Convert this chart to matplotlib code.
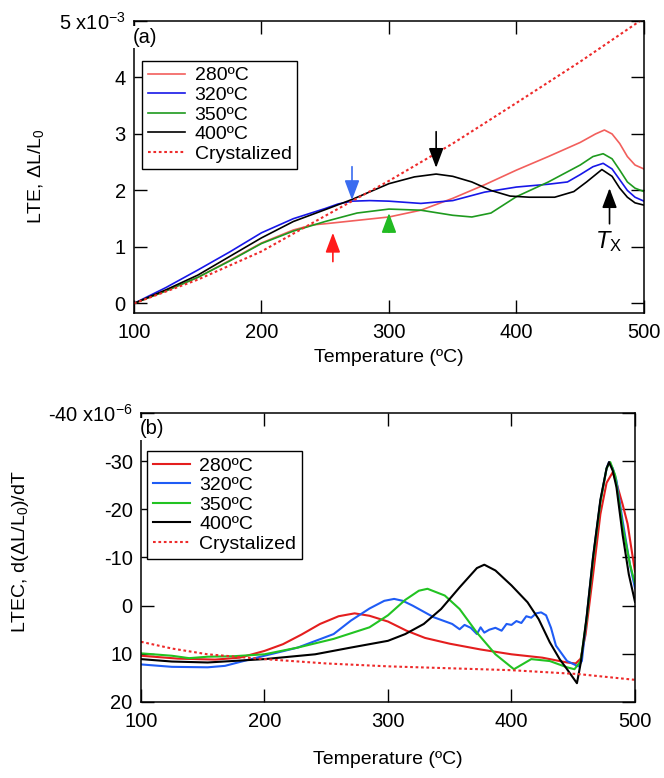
import matplotlib
matplotlib.use("Agg")
import matplotlib.pyplot as plt

plt.rcParams["font.family"] = ["Liberation Sans", "DejaVu Sans"]
plt.rcParams["mathtext.fontset"] = "custom"
plt.rcParams["mathtext.rm"] = "Liberation Sans"
plt.rcParams["mathtext.it"] = "Liberation Sans:italic"

# -------------------------------
# Panel (a): LTE, dL/L0 (x1e-3)
# -------------------------------
a_t280 = [100, 125, 150, 175, 200, 225, 240, 250, 275, 300, 325, 350, 375, 400, 425, 450, 462, 469, 475, 481, 487, 493, 500]
a_v280 = [0, 0.22, 0.46, 0.76, 1.07, 1.30, 1.39, 1.41, 1.47, 1.53, 1.65, 1.86, 2.10, 2.36, 2.60, 2.85, 3.00, 3.07, 3.00, 2.83, 2.60, 2.45, 2.38]

a_t320 = [100, 125, 150, 175, 200, 225, 250, 260, 271, 285, 300, 325, 350, 375, 400, 425, 440, 450, 460, 468, 475, 481, 487, 493, 500]
a_v320 = [0, 0.28, 0.59, 0.91, 1.25, 1.50, 1.68, 1.76, 1.81, 1.82, 1.81, 1.77, 1.82, 1.97, 2.06, 2.11, 2.15, 2.28, 2.42, 2.48, 2.38, 2.19, 2.00, 1.88, 1.81]

a_t350 = [100, 125, 150, 175, 200, 225, 250, 275, 300, 325, 350, 365, 380, 400, 425, 450, 460, 468, 475, 481, 487, 493, 500]
a_v350 = [0, 0.22, 0.46, 0.75, 1.06, 1.28, 1.45, 1.60, 1.67, 1.65, 1.56, 1.53, 1.60, 1.89, 2.15, 2.45, 2.60, 2.65, 2.56, 2.36, 2.15, 2.04, 1.98]

a_t400 = [100, 125, 150, 175, 200, 225, 250, 271, 300, 320, 337, 350, 365, 380, 395, 410, 430, 445, 455, 467, 475, 481, 487, 493, 500]
a_v400 = [0, 0.24, 0.50, 0.83, 1.16, 1.45, 1.66, 1.84, 2.12, 2.24, 2.29, 2.25, 2.15, 2.00, 1.90, 1.88, 1.88, 1.98, 2.15, 2.37, 2.25, 2.04, 1.88, 1.78, 1.74]

a_tcry = [100, 150, 200, 250, 300, 350, 400, 450, 500]
a_vcry = [0, 0.42, 0.92, 1.55, 2.17, 2.83, 3.55, 4.28, 5.05]

# -------------------------------
# Panel (b): LTEC, d(dL/L0)/dT (x1e-6)
# -------------------------------
b_t280 = [100, 130, 160, 180, 200, 215, 230, 245, 260, 273, 285, 300, 315, 330, 350, 375, 400, 425, 445, 452, 456, 460, 466, 472, 477, 482, 485, 490, 494, 497, 500]
b_v280 = [10.4, 11.0, 11.2, 10.8, 9.4, 8.0, 6.0, 3.8, 2.2, 1.6, 2.1, 3.3, 5.2, 6.7, 7.9, 9.1, 10.1, 10.8, 11.8, 12.0, 11.0, 6.0, -6.3, -19.0, -25.5, -27.7, -25.5, -21.0, -17.0, -12.0, -7.1]

b_t320 = [100, 125, 154, 168, 183, 200, 227, 256, 270, 285, 297, 305, 312, 320, 337, 352, 358, 362, 367, 372, 375, 378, 382, 387, 392, 396, 400, 404, 408, 412, 416, 420, 424, 428, 432, 436, 445, 454, 457, 461, 466, 472, 477, 479, 482, 485, 490, 496, 500]
b_v320 = [12.2, 12.7, 12.8, 12.5, 11.5, 10.4, 8.7, 5.9, 3.1, 0.6, -1.0, -1.4, -1.0, 0.0, 2.4, 3.8, 4.9, 4.0, 4.6, 5.9, 4.5, 5.6, 5.0, 4.6, 5.2, 3.8, 4.0, 3.2, 3.6, 2.2, 2.5, 1.6, 1.4, 2.0, 4.6, 8.3, 11.5, 12.6, 11.5, 2.1, -9.9, -21.7, -28.5, -29.8, -28.5, -26.0, -17.6, -8.4, -3.6]

b_t350 = [100, 125, 139, 154, 175, 200, 227, 256, 285, 300, 314, 325, 332, 346, 358, 372, 387, 402, 416, 431, 445, 451, 456, 461, 466, 472, 477, 480, 484, 490, 496, 500]
b_v350 = [9.9, 10.4, 10.9, 10.6, 10.5, 10.1, 8.7, 6.9, 4.5, 2.0, -1.2, -3.1, -3.5, -2.1, 0.7, 5.6, 10.1, 13.2, 11.1, 11.5, 12.8, 13.2, 11.5, 2.5, -9.5, -21.5, -28.5, -29.8, -27.0, -16.5, -8.5, -4.6]

b_t400 = [100, 125, 154, 200, 241, 270, 300, 314, 329, 343, 358, 372, 378, 387, 400, 413, 422, 431, 439, 445, 453, 456, 461, 466, 472, 477, 479, 482, 485, 490, 495, 500]
b_v400 = [11.1, 11.6, 11.8, 11.1, 10.1, 8.7, 7.3, 5.9, 3.8, 0.7, -3.8, -7.8, -8.5, -7.3, -4.2, -0.7, 2.8, 7.6, 11.1, 13.2, 16.1, 12.0, 2.0, -10.0, -22.0, -28.5, -29.8, -28.0, -24.6, -14.7, -6.5, -0.8]

b_tcry = [100, 125, 154, 200, 250, 300, 350, 400, 454, 500]
b_vcry = [7.5, 8.9, 10.1, 11.1, 12.0, 12.6, 13.0, 13.4, 14.2, 15.4]

labels = ["280ºC", "320ºC", "350ºC", "400ºC", "Crystalized"]
colors_a = ["#f25f5c", "#1717e8", "#1e9a1e", "black"]
colors_b = ["#e41e1e", "#1f5cf5", "#22c322", "black"]
cry_color = "#ee2a2a"

fig = plt.figure(figsize=(6.64, 7.78), dpi=100)
ax1 = fig.add_axes([0.2018, 0.5977, 0.768, 0.3753])
ax2 = fig.add_axes([0.2123, 0.0977, 0.744, 0.3715])


def style_axis(ax):
    for sp in ax.spines.values():
        sp.set_linewidth(1.1)
    ax.tick_params(direction="in", length=9.5, width=1.0, top=True, right=True,
                   labelsize=14.5, pad=6)
    ax.tick_params(axis="x", pad=7)


# ---- panel (a)
series_a = [(a_t280, a_v280), (a_t320, a_v320), (a_t350, a_v350), (a_t400, a_v400)]
for (t, v), c, lab in zip(series_a, colors_a, labels):
    ax1.plot(t, v, color=c, lw=1.2, label=lab)
ax1.plot(a_tcry, a_vcry, color=cry_color, lw=1.5, ls=(0, (1.3, 1.3)), label=labels[4])

ax1.set_xlim(100, 500)
ax1.set_ylim(-0.17, 5)
ax1.set_xticks([100, 200, 300, 400, 500])
ax1.set_yticks([0, 1, 2, 3, 4, 5])
ax1.set_yticklabels(["0", "1", "2", "3", "4", "5 x10$^{-3}$"])
style_axis(ax1)
ax1.set_xlabel("Temperature (ºC)", fontsize=14)
ax1.set_ylabel("LTE, ΔL/L$_0$", fontsize=14)
ax1.xaxis.set_label_coords(0.5, -0.125)
ax1.yaxis.set_label_coords(-0.172, 0.47)
ax1.text(-0.002, 0.945, "(a)", transform=ax1.transAxes, fontsize=14.5, ha="left", va="center",
         bbox=dict(facecolor="white", edgecolor="none", pad=1))
leg = ax1.legend(loc="upper left", bbox_to_anchor=(0.016, 0.863), borderaxespad=0,
                 fontsize=14, frameon=True, fancybox=False, framealpha=1, edgecolor="black",
                 handlelength=1.9, handletextpad=0.5, labelspacing=0.1, borderpad=0.3)
leg.get_frame().set_linewidth(1.0)

# arrows (a)
arrow_kw = dict(arrowstyle="-|>,head_length=0.8,head_width=0.3", lw=1.2,
                shrinkA=0, shrinkB=0, mutation_scale=15)
ax1.annotate("", xy=(271, 1.83), xytext=(271, 2.42), arrowprops=dict(color="#3a6cf0", **arrow_kw))
ax1.annotate("", xy=(337, 2.40), xytext=(337, 3.04), arrowprops=dict(color="black", **arrow_kw))
ax1.annotate("", xy=(300, 1.60), xytext=(300, 1.26), arrowprops=dict(color="#22bb22", **arrow_kw))
ax1.annotate("", xy=(256, 1.25), xytext=(256, 0.74), arrowprops=dict(color="#ff1a1a", **arrow_kw))
ax1.annotate("", xy=(473, 2.04), xytext=(473, 1.41), arrowprops=dict(color="black", **arrow_kw))
ax1.text(472, 1.10, r"$T_{\mathrm{X}}$", fontsize=17, ha="center", va="center")

# ---- panel (b)
series_b = [(b_t280, b_v280), (b_t320, b_v320), (b_t350, b_v350), (b_t400, b_v400)]
for (t, v), c, lab in zip(series_b, colors_b, labels):
    ax2.plot(t, v, color=c, lw=1.5, label=lab)
ax2.plot(b_tcry, b_vcry, color=cry_color, lw=1.5, ls=(0, (1.3, 1.3)), label=labels[4])

ax2.set_xlim(100, 500)
ax2.set_ylim(20, -40)
ax2.set_xticks([100, 200, 300, 400, 500])
ax2.set_yticks([-40, -30, -20, -10, 0, 10, 20])
ax2.set_yticklabels(["-40 x10$^{-6}$", "-30", "-20", "-10", "0", "10", "20"])
style_axis(ax2)
ax2.set_xlabel("Temperature (ºC)", fontsize=14)
ax2.set_ylabel("LTEC, d(ΔL/L$_0$)/dT", fontsize=14)
ax2.xaxis.set_label_coords(0.5, -0.17)
ax2.yaxis.set_label_coords(-0.222, 0.52)
ax2.text(-0.002, 0.945, "(b)", transform=ax2.transAxes, fontsize=14.5, ha="left", va="center",
         bbox=dict(facecolor="white", edgecolor="none", pad=1))
leg2 = ax2.legend(loc="upper left", bbox_to_anchor=(0.012, 0.868), borderaxespad=0,
                  fontsize=14, frameon=True, fancybox=False, framealpha=1, edgecolor="black",
                  handlelength=1.9, handletextpad=0.5, labelspacing=0.1, borderpad=0.3)
leg2.get_frame().set_linewidth(1.0)

fig.savefig("out.png", dpi=100)
